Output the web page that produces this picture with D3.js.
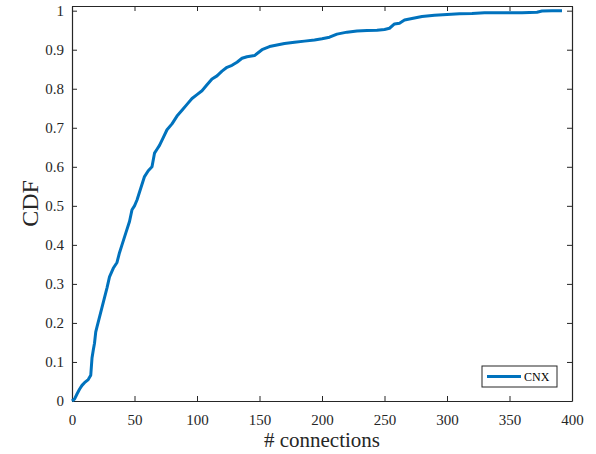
<!DOCTYPE html>
<html>
<head>
<meta charset="utf-8">
<script src="https://cdn.jsdelivr.net/npm/d3@7"></script>
<style>
  body { margin: 0; background: #fff; }
  .tick line, .domain { stroke: #262626; }
</style>
</head>
<body>
<div id="chart"></div>
<script>
// # connections vs CDF
const connections = [0, 2, 4, 6, 8, 10, 13, 15, 16, 17, 18, 19, 20, 22, 24, 26, 28, 30, 33, 36,
  38, 40, 43, 46, 48, 50, 52, 55, 58, 61, 64, 66, 68, 70, 73, 76, 80, 84, 88, 92,
  96, 100, 104, 108, 112, 116, 120, 124, 128, 132, 136, 140, 146, 152, 158, 164, 170, 178, 186, 194,
  200, 206, 212, 220, 228, 236, 244, 250, 254, 258, 262, 266, 272, 280, 290, 300, 310, 320, 330, 345,
  360, 372, 376, 384, 392];
const cdf = [0, 0.005, 0.018, 0.03, 0.04, 0.047, 0.055, 0.066, 0.11, 0.13, 0.148, 0.177, 0.19, 0.215, 0.24, 0.265, 0.29, 0.318, 0.34, 0.355,
  0.38, 0.4, 0.43, 0.46, 0.49, 0.5, 0.515, 0.545, 0.575, 0.59, 0.6, 0.635, 0.645, 0.655, 0.675, 0.695, 0.71, 0.73, 0.745, 0.76,
  0.775, 0.785, 0.795, 0.81, 0.825, 0.833, 0.845, 0.855, 0.86, 0.868, 0.878, 0.882, 0.885, 0.9, 0.908, 0.912, 0.916, 0.919, 0.922, 0.925,
  0.928, 0.932, 0.94, 0.945, 0.948, 0.949, 0.95, 0.952, 0.955, 0.966, 0.968, 0.976, 0.98, 0.985, 0.988, 0.99, 0.992, 0.993, 0.995, 0.995,
  0.995, 0.996, 0.999, 1.0, 1.0];
const xTicks = [0, 50, 100, 150, 200, 250, 300, 350, 400];
const yTicks = [0, 0.1, 0.2, 0.3, 0.4, 0.5, 0.6, 0.7, 0.8, 0.9, 1];
const seriesName = "CNX";

const width = 596;
const height = 454;
const plotLeft = 72, plotRight = 572, plotTop = 6, plotBottom = 401;
const serif = "'Liberation Serif', 'Times New Roman', Times, serif";

const svg = d3.select('#chart').append('svg').attr('width', width).attr('height', height)
  .attr('font-family', serif);

const xScale = d3.scaleLinear().domain([0, 400]).range([plotLeft, plotRight]);
const yScale = d3.scaleLinear().domain([0, 1.012]).range([plotBottom, plotTop]);

const fmt = d => d === 0 || d === 1 ? String(d) : d3.format('.1f')(d);

// bottom / left axes with inward ticks
const xAxis = svg.append('g').attr('transform', `translate(0, ${plotBottom})`)
  .call(d3.axisBottom(xScale).tickValues(xTicks).tickSizeInner(-5).tickSizeOuter(0).tickPadding(13));
xAxis.selectAll('text').attr('dy', '0.71em');
const yAxis = svg.append('g').attr('transform', `translate(${plotLeft}, 0)`)
  .call(d3.axisLeft(yScale).tickValues(yTicks).tickFormat(fmt).tickSizeInner(-5).tickSizeOuter(0).tickPadding(8));
[xAxis, yAxis].forEach(ax => {
  ax.attr('font-family', serif).attr('font-size', 15);
  ax.selectAll('text').attr('fill', '#262626');
});
// top / right (box on)
svg.append('g').attr('transform', `translate(0, ${plotTop})`)
  .call(d3.axisTop(xScale).tickValues(xTicks).tickSizeInner(-5).tickSizeOuter(0).tickFormat(''));
svg.append('g').attr('transform', `translate(${plotRight}, 0)`)
  .call(d3.axisRight(yScale).tickValues(yTicks).tickSizeInner(-5).tickSizeOuter(0).tickFormat(''));
svg.selectAll('.domain').attr('stroke-width', 1.2);

const points = connections.map((c, i) => [c, cdf[i]]);
const line = d3.line().x(d => xScale(d[0])).y(d => yScale(d[1]));

svg.append('path')
  .datum(points)
  .attr('fill', 'none')
  .attr('stroke', '#0072BD')
  .attr('stroke-width', 3)
  .attr('stroke-linejoin', 'round')
  .attr('d', line);

// legend
const legend = svg.append('g').attr('transform', 'translate(482, 366)');
legend.append('rect').attr('width', 75).attr('height', 21)
  .attr('fill', '#fff').attr('stroke', '#262626').attr('stroke-width', 1);
legend.append('line').attr('x1', 5).attr('x2', 39).attr('y1', 10.5).attr('y2', 10.5)
  .attr('stroke', '#0072BD').attr('stroke-width', 3);
legend.append('text').attr('x', 42).attr('y', 15).attr('font-size', 12).attr('fill', '#000').text(seriesName);

// axis labels
svg.append('text')
  .attr('x', (plotLeft + plotRight) / 2).attr('y', 447)
  .attr('text-anchor', 'middle').attr('font-size', 21).attr('fill', '#262626')
  .text('# connections');
svg.append('text')
  .attr('transform', `translate(38, ${(plotTop + plotBottom) / 2}) rotate(-90)`)
  .attr('text-anchor', 'middle').attr('font-size', 24).attr('fill', '#262626')
  .text('CDF');
</script>
</body>
</html>
